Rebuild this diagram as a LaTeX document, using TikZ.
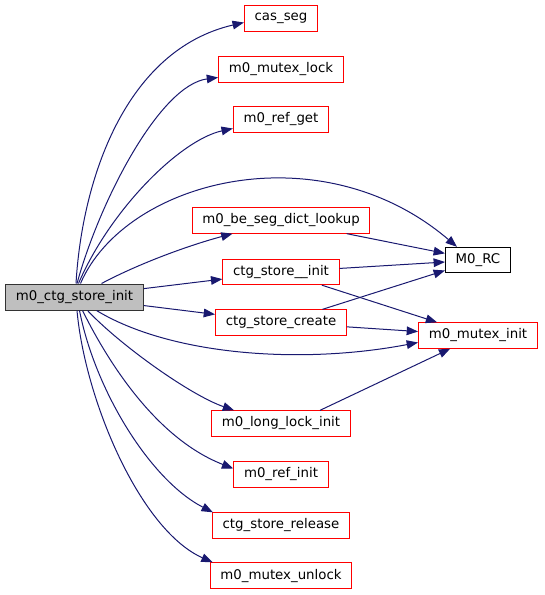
\documentclass[tikz,border=0pt]{standalone}
\usepackage{fontspec}
\setmainfont{DejaVu Sans}
\usepackage{tikz}
\usetikzlibrary{arrows.meta,calc,positioning}
\definecolor{edgeblue}{HTML}{191970}
\definecolor{rootgray}{HTML}{BFBFBF}

\begin{document}
\begin{tikzpicture}[
    x=0.75pt, y=-0.75pt,
    box/.style={rectangle, draw, line width=0.75pt, minimum height=19pt, inner xsep=7.7pt, inner ysep=0pt, font=\fontsize{10pt}{12pt}\selectfont},
    box red/.style={box, draw=red},
    box black/.style={box, draw=black},
    box root/.style={box, draw=black!80, fill=rootgray, minimum height=19.5pt},
    edge call/.style={draw=edgeblue, line width=0.75pt, -{Triangle[length=8.5pt, width=6.5pt]}}
]
    \useasboundingbox (0,0) rectangle (544,595);

    % Caller
    \node[box root] (ctginit) at (74.5,297) {m0\_ctg\_store\_init};

    % Callees
    \node[box red] (casseg) at (281,18.5) {cas\_seg};
    \node[box red] (mutexlock) at (281,69.5) {m0\_mutex\_lock};
    \node[box red] (refget) at (281,119.5) {m0\_ref\_get};
    \node[box red] (dictlookup) at (281,220.5) {m0\_be\_seg\_dict\_lookup};
    \node[box red] (storeinit) at (281,272) {ctg\_store\_\_init};
    \node[box red] (storecreate) at (281,322.5) {ctg\_store\_create};
    \node[box red] (longlock) at (281,423.5) {m0\_long\_lock\_init};
    \node[box red] (refinit) at (281,474.5) {m0\_ref\_init};
    \node[box red] (storerelease) at (281,525.5) {ctg\_store\_release};
    \node[box red] (mutexunlock) at (281,575.5) {m0\_mutex\_unlock};

    % Second level
    \node[box black] (rc) at (478,260) {M0\_RC};
    \node[box red] (mutexinit) at (478,335.5) {m0\_mutex\_init};

    % Calls from the caller (upper half)
    \draw[edge call] ($(ctginit.north)+(1.5,0)$) .. controls (82,180) and (125,50) .. ($(casseg.west)+(0,4)$);
    \draw[edge call] ($(ctginit.north)+(2.5,0)$) .. controls (100,200) and (160,85) .. ($(mutexlock.west)+(0,8)$);
    \draw[edge call] ($(ctginit.north)+(4,0)$) .. controls (110,210) and (180,140) .. ($(refget.west)+(0,9)$);
    \draw[edge call] ($(ctginit.north)+(6,0)$) .. controls (125,180) and (320,130) .. ($(rc.north west)+(12,0)$);
    \draw[edge call] ($(ctginit.north)+(27,0)$) .. controls (140,263) and (190,245) .. ($(dictlookup.south west)+(41,0)$);
    \draw[edge call] (ctginit) -- (storeinit);
    \draw[edge call] (ctginit) -- (storecreate);

    % Calls from the caller (lower half)
    \draw[edge call] ($(ctginit.south)+(22,0)$) .. controls (170,355) and (300,365) .. ($(mutexinit.west)+(0,7)$);
    \draw[edge call] ($(ctginit.south)+(13,0)$) .. controls (120,345) and (190,395) .. ($(longlock.north west)+(23,0)$);
    \draw[edge call] ($(ctginit.south)+(8,0)$) .. controls (112,370) and (160,440) .. ($(refinit.west)+(0,-6)$);
    \draw[edge call] ($(ctginit.south)+(5,0)$) .. controls (95,390) and (150,480) .. ($(storerelease.north west)+(1,0)$);
    \draw[edge call] ($(ctginit.south)+(2.5,0)$) .. controls (85,400) and (140,530) .. ($(mutexunlock.north west)+(3,0)$);

    % Calls between callees
    \draw[edge call] (dictlookup) -- (rc);
    \draw[edge call] (storeinit) -- (rc);
    \draw[edge call] (storeinit) -- (mutexinit);
    \draw[edge call] (storecreate) -- (rc);
    \draw[edge call] (storecreate) -- (mutexinit);
    \draw[edge call] ($(longlock.north)+(39,0)$) -- (mutexinit);
\end{tikzpicture}
\end{document}
